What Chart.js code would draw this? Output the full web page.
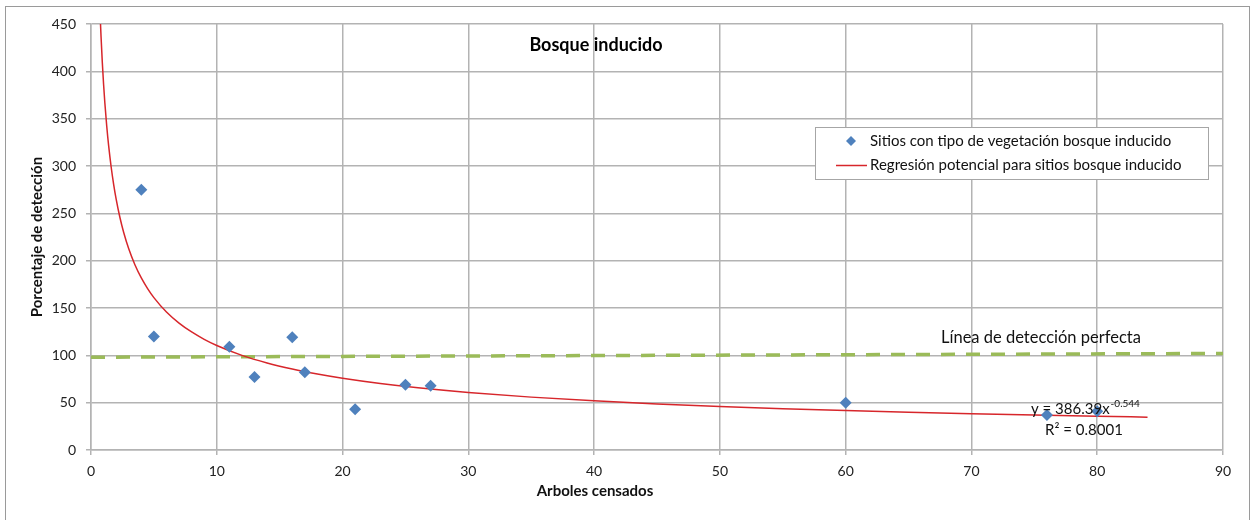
<!DOCTYPE html>
<html>
<head>
<meta charset="utf-8">
<script src="https://cdn.jsdelivr.net/npm/chart.js@4.4.1/dist/chart.umd.min.js"></script>
<style>
  html, body { margin: 0; padding: 0; background: #ffffff; }
  #wrap { width: 1252px; height: 520px; position: relative; }
</style>
</head>
<body>
<div id="wrap"><canvas id="grafico"></canvas></div>
<script>
// Sitios con tipo de vegetación bosque inducido
const arbolesCensados = [4, 5, 11, 13, 16, 17, 21, 25, 27, 60, 76, 80];
const porcentajeDeteccion = [275, 120, 109, 77, 119, 82, 43, 69, 68, 50, 37, 41];

// Regresión potencial: y = A · x^B
const regresionA = 386.39;
const regresionB = -0.544;
const regresionR2 = 0.8001;
const regresionX = [0.7, 0.75, 0.8, 0.9, 1, 1.1, 1.25, 1.4, 1.6, 1.8, 2, 2.3, 2.6, 3, 3.5, 4, 4.5, 5, 6, 7, 8, 9, 10,
  12, 14, 16, 18, 20, 23, 26, 30, 35, 40, 45, 50, 55, 60, 65, 70, 75, 80, 84];

// Línea de detección perfecta
const perfectaX = [0, 90];
const perfectaY = [98, 102];

// Marcas de los ejes
const ticksX = [0, 10, 20, 30, 40, 50, 60, 70, 80, 90];
const ticksY = [0, 50, 100, 150, 200, 250, 300, 350, 400, 450];

const FUENTE = 'Lato, "Open Sans", sans-serif';
const GRIS = '#b3b3b3';
const AZUL = '#4f81bd';
const ROJO = '#d7262b';
const VERDE = '#9bbb59';

const puntos = arbolesCensados.map((x, i) => ({ x, y: porcentajeDeteccion[i] }));
const curva = regresionX.map(x => ({ x, y: regresionA * Math.pow(x, regresionB) }));
const perfecta = perfectaX.map((x, i) => ({ x, y: perfectaY[i] }));

// Título, leyenda, rótulos y marco dibujados sobre el área del gráfico
const decoracion = {
  id: 'decoracion',
  afterDraw(chart) {
    const { ctx } = chart;
    ctx.save();

    // marco exterior
    ctx.strokeStyle = '#9a9a9a';
    ctx.lineWidth = 1;
    ctx.strokeRect(5.5, 6.5, 1244, 600);

    // título
    ctx.fillStyle = '#000';
    ctx.font = 'bold 18px ' + FUENTE;
    ctx.textAlign = 'center';
    ctx.textBaseline = 'middle';
    ctx.fillText('Bosque inducido', 596, 45);

    // título del eje horizontal
    ctx.font = 'bold 15px ' + FUENTE;
    ctx.fillStyle = '#111';
    ctx.fillText('Arboles censados', 595, 491);

    // rótulo de la línea de detección perfecta
    ctx.font = '16.5px ' + FUENTE;
    ctx.textAlign = 'left';
    ctx.fillText('Línea de detección perfecta', 941, 338);

    // ecuación de la regresión
    const base = 'y = ' + String(regresionA) + 'x';
    ctx.font = '15px ' + FUENTE;
    ctx.textBaseline = 'alphabetic';
    ctx.fillText(base, 1031, 414);
    const wBase = ctx.measureText(base).width;
    ctx.font = '10px ' + FUENTE;
    ctx.fillText(String(regresionB), 1031 + wBase + 1, 407);
    ctx.font = '15px ' + FUENTE;
    ctx.textAlign = 'center';
    ctx.fillText('R² = ' + regresionR2.toFixed(4), 1084, 435);

    // leyenda
    const lx = 815.5, ly = 127.5, lw = 393, lh = 52;
    ctx.fillStyle = '#fff';
    ctx.fillRect(lx, ly, lw, lh);
    ctx.strokeStyle = '#a6a6a6';
    ctx.lineWidth = 1;
    ctx.strokeRect(lx, ly, lw, lh);

    const ds = chart.data.datasets;
    // marcador de los sitios
    ctx.fillStyle = ds[0].backgroundColor;
    ctx.beginPath();
    ctx.moveTo(851, 136);
    ctx.lineTo(856, 141);
    ctx.lineTo(851, 146);
    ctx.lineTo(846, 141);
    ctx.closePath();
    ctx.fill();
    // trazo de la regresión
    ctx.strokeStyle = ds[1].borderColor;
    ctx.lineWidth = 1.5;
    ctx.beginPath();
    ctx.moveTo(836, 165.5);
    ctx.lineTo(867, 165.5);
    ctx.stroke();

    ctx.fillStyle = '#111';
    ctx.font = '15px ' + FUENTE;
    ctx.textAlign = 'left';
    ctx.textBaseline = 'middle';
    ctx.fillText(ds[0].label, 870, 141);
    ctx.fillText(ds[1].label, 870, 165);

    ctx.restore();
  }
};

new Chart(document.getElementById('grafico'), {
  type: 'scatter',
  data: {
    datasets: [
      {
        label: 'Sitios con tipo de vegetación bosque inducido',
        data: puntos,
        pointStyle: 'rectRot',
        pointRadius: 6,
        pointHoverRadius: 6,
        backgroundColor: AZUL,
        borderColor: AZUL,
        borderWidth: 0,
        order: 0
      },
      {
        label: 'Regresión potencial para sitios bosque inducido',
        data: curva,
        type: 'line',
        showLine: true,
        borderColor: ROJO,
        borderWidth: 1.5,
        pointRadius: 0,
        cubicInterpolationMode: 'monotone',
        fill: false,
        order: 1
      },
      {
        label: 'Línea de detección perfecta',
        data: perfecta,
        type: 'line',
        showLine: true,
        borderColor: VERDE,
        borderWidth: 3.5,
        borderDash: [14, 11],
        pointRadius: 0,
        fill: false,
        order: 2
      }
    ]
  },
  options: {
    responsive: true,
    maintainAspectRatio: false,
    animation: false,
    events: [],
    layout: { padding: { top: 24, right: 29, bottom: 0, left: 0 } },
    plugins: {
      legend: { display: false },
      title: { display: false },
      tooltip: { enabled: false }
    },
    scales: {
      x: {
        type: 'linear',
        min: 0,
        max: 90,
        afterBuildTicks: s => { s.ticks = ticksX.map(v => ({ value: v })); },
        afterFit: s => { s.height = 70; },
        grid: { color: GRIS, lineWidth: 1.5, tickLength: 5, drawTicks: true },
        border: { color: GRIS, width: 1.5 },
        ticks: { color: '#222', font: { family: FUENTE, size: 14 }, padding: 8, maxRotation: 0 },
        title: { display: false }
      },
      y: {
        type: 'linear',
        min: 0,
        max: 450,
        afterBuildTicks: s => { s.ticks = ticksY.map(v => ({ value: v })); },
        afterFit: s => { s.width = 91; },
        grid: { color: GRIS, lineWidth: 1.5, tickLength: 5, drawTicks: true },
        border: { color: GRIS, width: 1.5 },
        ticks: { color: '#222', font: { family: FUENTE, size: 14 }, padding: 10 },
        title: {
          display: true,
          text: 'Porcentaje de detección',
          color: '#111',
          font: { family: FUENTE, size: 15, weight: 'bold' },
          padding: { top: 28, bottom: 0 }
        }
      }
    }
  },
  plugins: [decoracion]
});
</script>
</body>
</html>
